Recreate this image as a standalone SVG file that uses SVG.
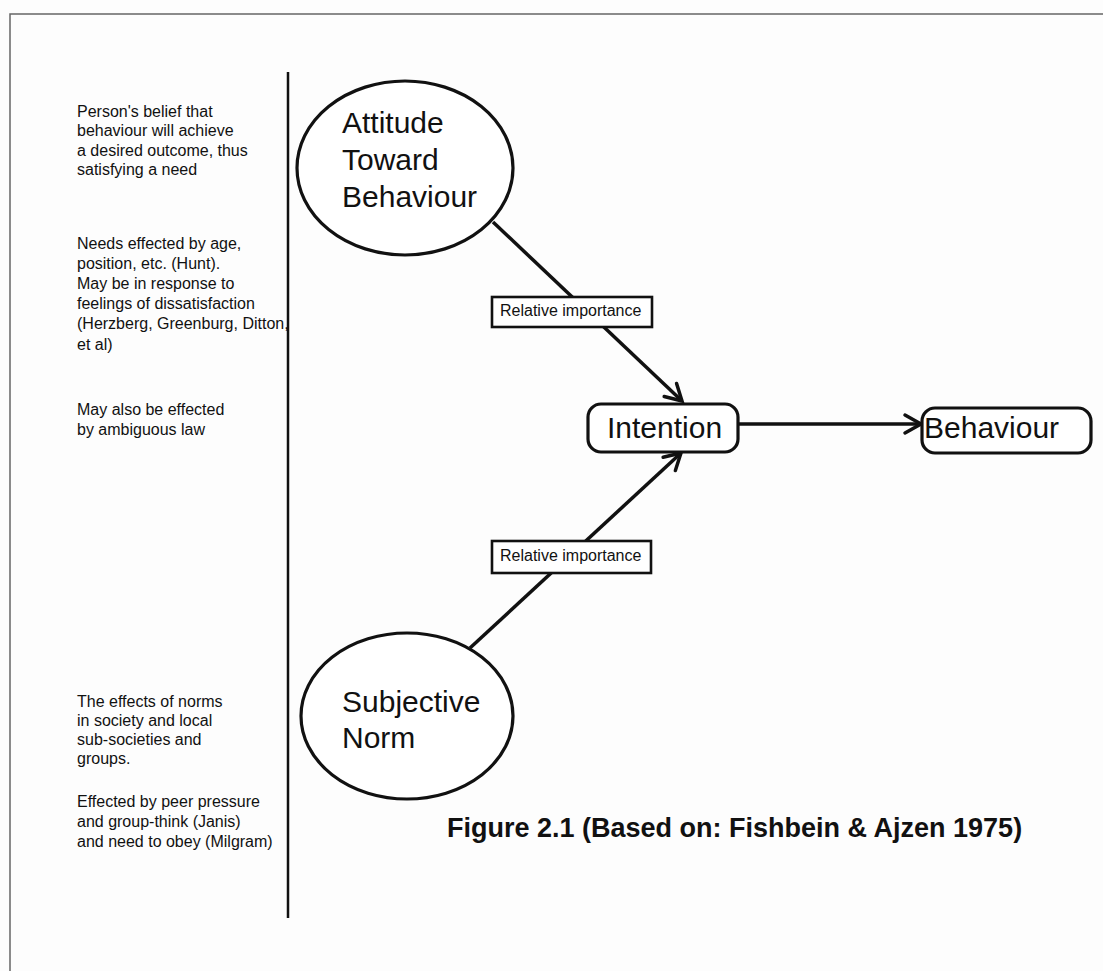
<svg xmlns="http://www.w3.org/2000/svg" width="1103" height="971" viewBox="0 0 1103 971">
<style>
.bg{fill:#fdfdfd}
.frame{stroke:#666;stroke-width:1.5;fill:none}
.div{stroke:#111;stroke-width:2.5}
.note{font-family:"Liberation Sans",Arial,sans-serif;font-size:16px;fill:#111}
.big{font-family:"Liberation Sans",Arial,sans-serif;font-size:30px;fill:#111}
.lbl{font-family:"Liberation Sans",Arial,sans-serif;font-size:16px;fill:#111}
.cap{font-family:"Liberation Sans",Arial,sans-serif;font-size:27px;font-weight:bold;fill:#111}
.shape{fill:#fff;stroke:#111;stroke-width:3.2}
.lbox{fill:#fff;stroke:#111;stroke-width:2.6}
.conn{stroke:#111;stroke-width:3.5;fill:none}
</style>
<defs>
<marker id="arr" markerUnits="userSpaceOnUse" viewBox="-20 -12 24 24" refX="0" refY="0" markerWidth="24" markerHeight="24" orient="auto">
<path d="M-16,-9 L0,0 L-16,9" fill="none" stroke="#111" stroke-width="3.5" stroke-linecap="round" stroke-linejoin="miter"/>
</marker>
</defs>
<rect class="bg" x="0" y="0" width="1103" height="971"/>
<g id="frame">
<path class="frame" d="M10,971 L10,14 L1103,14"/>
<line class="div" x1="288" y1="72" x2="288" y2="918"/>
</g>
<g id="notes">
<text class="note" x="77" y="117">Person's belief that</text>
<text class="note" x="77" y="136">behaviour will achieve</text>
<text class="note" x="77" y="156">a desired outcome, thus</text>
<text class="note" x="77" y="175">satisfying a need</text>
<text class="note" x="77" y="249">Needs effected by age,</text>
<text class="note" x="77" y="269">position, etc. (Hunt).</text>
<text class="note" x="77" y="289">May be in response to</text>
<text class="note" x="77" y="309">feelings of dissatisfaction</text>
<text class="note" x="77" y="329">(Herzberg, Greenburg, Ditton,</text>
<text class="note" x="77" y="350">et al)</text>
<text class="note" x="77" y="415">May also be effected</text>
<text class="note" x="77" y="435">by ambiguous law</text>
<text class="note" x="77" y="707">The effects of norms</text>
<text class="note" x="77" y="726">in society and local</text>
<text class="note" x="77" y="745">sub-societies and</text>
<text class="note" x="77" y="764">groups.</text>
<text class="note" x="77" y="807">Effected by peer pressure</text>
<text class="note" x="77" y="827">and group-think (Janis)</text>
<text class="note" x="77" y="847">and need to obey (Milgram)</text>
</g>
<g id="connectors">
<line class="conn" x1="493" y1="222" x2="682" y2="401" marker-end="url(#arr)"/>
<line class="conn" x1="470" y1="648" x2="681" y2="453" marker-end="url(#arr)"/>
<line class="conn" x1="738" y1="424" x2="921" y2="424" marker-end="url(#arr)"/>
</g>
<g id="attitude">
<ellipse class="shape" cx="405" cy="168" rx="108" ry="87"/>
<text class="big" x="342" y="133">Attitude</text>
<text class="big" x="342" y="170">Toward</text>
<text class="big" x="342" y="207">Behaviour</text>
</g>
<g id="label1">
<rect class="lbox" x="492" y="297" width="160" height="30"/>
<text class="lbl" x="500" y="316">Relative importance</text>
</g>
<g id="intention">
<rect class="shape" x="588" y="404" width="150" height="48" rx="13"/>
<text class="big" x="607" y="438">Intention</text>
</g>
<g id="behaviour">
<rect class="shape" x="922" y="408" width="169" height="45" rx="13"/>
<text class="big" x="924" y="438">Behaviour</text>
</g>
<g id="label2">
<rect class="lbox" x="492" y="541" width="159" height="32"/>
<text class="lbl" x="500" y="561">Relative importance</text>
</g>
<g id="subjective">
<ellipse class="shape" cx="407" cy="716" rx="106" ry="83"/>
<text class="big" x="342" y="712">Subjective</text>
<text class="big" x="342" y="748">Norm</text>
</g>
<g id="caption">
<text class="cap" x="447" y="837">Figure 2.1 (Based on: Fishbein &amp; Ajzen 1975)</text>
</g>
</svg>
